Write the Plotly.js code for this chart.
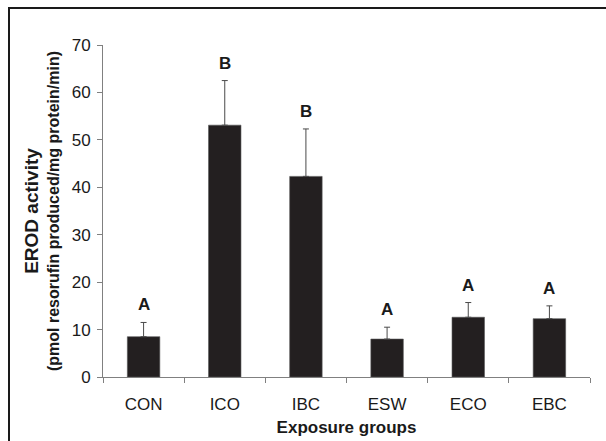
<!DOCTYPE html>
<html>
<head>
<meta charset="utf-8">
<script src="https://cdn.plot.ly/plotly-3.0.1.min.js"></script>
<style>
  html, body { margin: 0; padding: 0; background: #fff; }
  #wrap { position: relative; width: 606px; height: 441px; overflow: hidden; }
  #chart { width: 606px; height: 441px; }
  #frame { position: absolute; left: 8px; top: 7px; width: 610px; height: 450px;
           border-top: 2px solid #1a1a1a; border-left: 2px solid #1a1a1a; pointer-events: none; }
</style>
</head>
<body>
<div id="wrap">
  <div id="chart"></div>
  <div id="frame"></div>
</div>
<script>
const groups = ['CON', 'ICO', 'IBC', 'ESW', 'ECO', 'EBC'];
const erodMean = [8.5, 53.1, 42.3, 8.0, 12.6, 12.3];
const erodErr = [3.0, 9.4, 10.0, 2.5, 3.1, 2.7];
const sigLetters = ['A', 'B', 'B', 'A', 'A', 'A'];
const yTicks = [0, 10, 20, 30, 40, 50, 60, 70];

const FONT = '"Liberation Sans", Arial, Helvetica, sans-serif';

const trace = {
  type: 'bar',
  x: groups,
  y: erodMean,
  marker: { color: '#231f20', line: { color: '#555555', width: 0.6 } },
  error_y: {
    type: 'data',
    symmetric: false,
    array: erodErr,
    arrayminus: erodErr.map(() => 0),
    color: '#4a4a4a',
    thickness: 1,
    width: 3
  },
  hoverinfo: 'none'
};

const annotations = groups.map((g, i) => ({
  x: g,
  y: erodMean[i] + erodErr[i],
  xref: 'x', yref: 'y',
  text: '<b>' + sigLetters[i] + '</b>',
  showarrow: false,
  yanchor: 'bottom',
  yshift: 6,
  font: { family: FONT, size: 17, color: '#1a1a1a' }
}));

const layout = {
  width: 606, height: 441,
  margin: { l: 103, r: 16, t: 45, b: 64 },
  paper_bgcolor: '#ffffff',
  plot_bgcolor: '#ffffff',
  showlegend: false,
  bargap: 0.6,
  font: { family: FONT, color: '#1a1a1a' },
  xaxis: {
    type: 'category',
    showline: true, linecolor: '#808080', linewidth: 1,
    ticks: 'outside', tickson: 'boundaries', ticklen: 5, tickcolor: '#808080', tickwidth: 1,
    tickfont: { family: FONT, size: 17, color: '#1a1a1a' },
    ticklabelstandoff: 12,
    showgrid: false, zeroline: false,
    title: { text: '<b>Exposure groups</b>', font: { family: FONT, size: 17, color: '#1a1a1a' }, standoff: 7 }
  },
  yaxis: {
    range: [0, 70],
    tickvals: yTicks,
    ticktext: yTicks.map(String),
    showline: true, linecolor: '#808080', linewidth: 1,
    ticks: 'outside', ticklen: 5, tickcolor: '#808080', tickwidth: 1,
    tickfont: { family: FONT, size: 17, color: '#1a1a1a' },
    ticklabelstandoff: 3,
    showgrid: false, zeroline: false,
    title: {
      text: '<b><span style="font-size:19px">EROD activity</span><br>(pmol resorufin produced/mg protein/min)</b>',
      font: { family: FONT, size: 16, color: '#1a1a1a' },
      standoff: 8
    }
  },
  annotations: annotations
};

Plotly.newPlot('chart', [trace], layout, { staticPlot: true, displayModeBar: false });
</script>
</body>
</html>
